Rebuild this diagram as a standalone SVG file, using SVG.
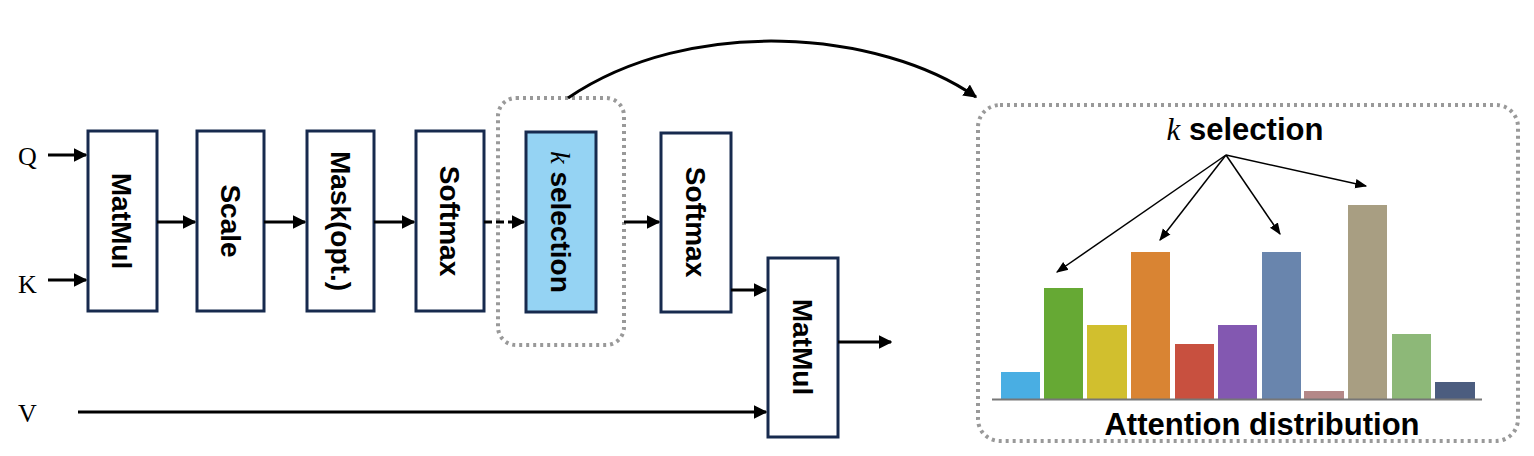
<svg xmlns="http://www.w3.org/2000/svg" width="1534" height="456" viewBox="0 0 1534 456">
<style>
.box{fill:#fff;stroke:#172a4e;stroke-width:3}
.t{font-family:"Liberation Sans",Arial,sans-serif;font-weight:bold;font-size:28px;fill:#000}
.s{font-family:"Liberation Serif",serif;font-size:26px;fill:#000}
.c{stroke:#000;stroke-width:3;fill:none}
.a{stroke:#000;stroke-width:1.5;fill:none}
.d{fill:none;stroke:#999;stroke-width:4;stroke-dasharray:3 4}
.k{font-family:"Liberation Serif",serif;font-style:italic;font-weight:normal}
</style>
<defs>
<marker id="m" viewBox="0 0 10 10" refX="9" refY="5" markerWidth="4.5" markerHeight="4.5" orient="auto"><path d="M0,0L10,5L0,10z" fill="#000"/></marker>
<marker id="m2" viewBox="0 0 10 10" refX="9" refY="5" markerWidth="8" markerHeight="8" orient="auto"><path d="M0,1L10,5L0,9z" fill="#000"/></marker>
</defs>
<rect class="d" x="498" y="98" width="126" height="247" rx="18"/>
<rect class="d" x="978" y="105" width="540" height="336" rx="22"/>
<g id="labels">
<text class="s" x="18" y="165">Q</text>
<text class="s" x="18" y="293">K</text>
<text class="s" x="18" y="422">V</text>
</g>
<g id="matmul1"><rect class="box" x="88" y="131" width="69" height="180"/><text class="t" transform="translate(112,221) rotate(90)" text-anchor="middle">MatMul</text></g>
<g id="scale"><rect class="box" x="197" y="131" width="67" height="180"/><text class="t" transform="translate(221,221) rotate(90)" text-anchor="middle">Scale</text></g>
<g id="mask"><rect class="box" x="307" y="131" width="67" height="180"/><text class="t" transform="translate(331,221) rotate(90)" text-anchor="middle">Mask(opt.)</text></g>
<g id="softmax1"><rect class="box" x="416" y="131" width="68" height="180"/><text class="t" transform="translate(440,221) rotate(90)" text-anchor="middle">Softmax</text></g>
<g id="ksel"><rect class="box" x="526" y="132" width="70" height="180" style="fill:#95d3f3"/><text class="t" transform="translate(551,222) rotate(90)" text-anchor="middle"><tspan class="k">k</tspan> selection</text></g>
<g id="softmax2"><rect class="box" x="661" y="133" width="70" height="179"/><text class="t" transform="translate(686,222) rotate(90)" text-anchor="middle">Softmax</text></g>
<g id="matmul2"><rect class="box" x="768" y="258" width="70" height="179"/><text class="t" transform="translate(793,347) rotate(90)" text-anchor="middle">MatMul</text></g>
<g id="connectors">
<path class="c" d="M48,155H86" marker-end="url(#m)"/>
<path class="c" d="M48,280H86" marker-end="url(#m)"/>
<path class="c" d="M157,222H195" marker-end="url(#m)"/>
<path class="c" d="M264,222H305" marker-end="url(#m)"/>
<path class="c" d="M374,222H414" marker-end="url(#m)"/>
<path class="c" d="M484,222H524" stroke-dasharray="8 4" marker-end="url(#m)"/>
<path class="c" d="M624,222H659" marker-end="url(#m)"/>
<path class="c" d="M731,290H766" marker-end="url(#m)"/>
<path class="c" d="M838,342H891" marker-end="url(#m)"/>
<path class="c" d="M78,412H766" marker-end="url(#m)"/>
<path class="c" d="M568,98C690,15 880,30 976,97" marker-end="url(#m)"/>
<path class="a" d="M1226,155L1057,272" marker-end="url(#m2)"/>
<path class="a" d="M1226,155L1160,240" marker-end="url(#m2)"/>
<path class="a" d="M1226,155L1280,234" marker-end="url(#m2)"/>
<path class="a" d="M1226,155L1366,186" marker-end="url(#m2)"/>
</g>
<g id="chart">
<text class="t" x="1245" y="140" text-anchor="middle" style="font-size:31px"><tspan class="k">k</tspan> selection</text>
<rect x="1001" y="372" width="39" height="27" fill="#49aee3"/>
<rect x="1044" y="288" width="39" height="111" fill="#66a934"/>
<rect x="1087" y="325" width="40" height="74" fill="#d1bf2e"/>
<rect x="1131" y="252" width="39" height="147" fill="#d98433"/>
<rect x="1175" y="344" width="39" height="55" fill="#c8503f"/>
<rect x="1218" y="325" width="39" height="74" fill="#8358b1"/>
<rect x="1262" y="252" width="39" height="147" fill="#6985ad"/>
<rect x="1304" y="391" width="40" height="8" fill="#b48888"/>
<rect x="1348" y="205" width="39" height="194" fill="#a89e82"/>
<rect x="1392" y="334" width="39" height="65" fill="#8db878"/>
<rect x="1435" y="382" width="40" height="17" fill="#4c5d7f"/>
<path d="M992,399.5H1482" stroke="#777" stroke-width="2"/>
<text class="t" x="1262" y="435" text-anchor="middle" style="font-size:31px">Attention distribution</text>
</g>
</svg>
